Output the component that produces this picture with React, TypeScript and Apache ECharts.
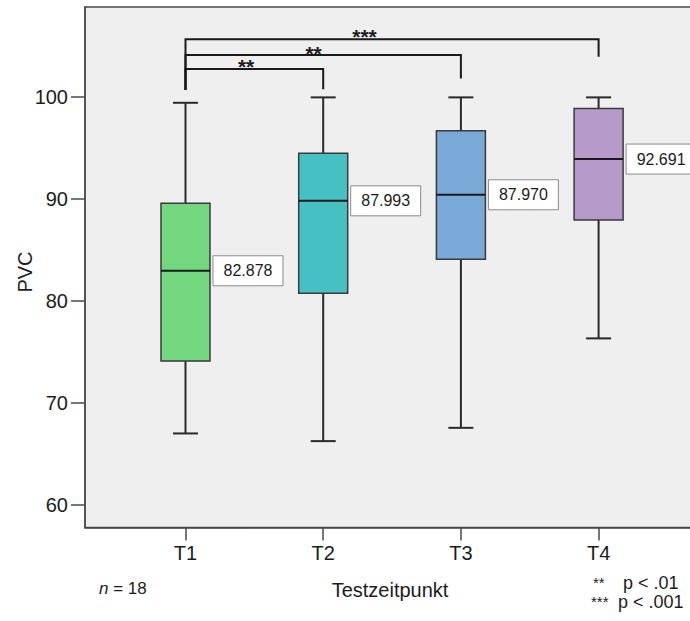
import React, { useEffect, useRef } from "react";
import * as echarts from "echarts";

// ---- data ----
const categories = ["T1", "T2", "T3", "T4"];
const categoryPos = [1, 2, 3, 4];
const whiskerLow = [67.01, 66.26, 67.56, 76.32];
const quartile1 = [74.1, 80.73, 84.08, 87.9];
const medians = [82.94, 89.79, 90.38, 93.88];
const quartile3 = [89.54, 94.44, 96.65, 98.84];
const whiskerHigh = [99.39, 99.92, 99.92, 99.92];
const meanLabels = ["82.878", "87.993", "87.970", "92.691"];
const boxColors = ["#72d77f", "#47c0c4", "#79a9d6", "#b69bca"];

const yTicks = [60, 70, 80, 90, 100];

// significance brackets
const bracketFrom = [1, 1, 1];
const bracketTo = [2, 3, 4];
const bracketLevel = [102.69, 104.06, 105.6];
const bracketLeftEnd = [100.64, 100.64, 100.64];
const bracketRightEnd = [100.71, 101.78, 103.9];
const bracketLabels = ["**", "**", "***"];
const bracketLabelX = [1.44, 1.93, 2.3];
const bracketLabelY = [103.25, 104.55, 106.19];

const FONT = "'Liberation Sans', Arial, Helvetica, sans-serif";
const INK = "#1c1c1c";

export default function App() {
  const ref = useRef<HTMLDivElement>(null);

  useEffect(() => {
    if (!ref.current) return;
    const chart = echarts.init(ref.current, undefined, { renderer: "svg" });

    const boxData = categoryPos.map((x, i) => [
      x,
      whiskerLow[i],
      quartile1[i],
      medians[i],
      quartile3[i],
      whiskerHigh[i],
    ]);

    const bracketData = bracketFrom.map((f, i) => [
      f,
      bracketTo[i],
      bracketLevel[i],
      bracketLeftEnd[i],
      bracketRightEnd[i],
      bracketLabelX[i],
      bracketLabelY[i],
    ]);

    const option: any = {
      animation: false,
      textStyle: { fontFamily: FONT },
      grid: {
        left: 85,
        width: 612,
        top: 7,
        height: 520.5,
        outerBoundsMode: "none",
        containLabel: false,
        show: true,
        backgroundColor: "#efefef",
        borderColor: "#4a4a4a",
        borderWidth: 1.5,
      },
      xAxis: {
        type: "value",
        min: 0.2702,
        max: 4.7146,
        splitLine: { show: false },
        axisLine: { show: true, lineStyle: { color: "#4a4a4a", width: 1.5 } },
        axisTick: {
          show: true,
          customValues: categoryPos,
          length: 13,
          lineStyle: { color: "#4a4a4a", width: 1.5 },
        },
        axisLabel: {
          customValues: categoryPos,
          formatter: (v: number) => categories[Math.round(v) - 1] ?? "",
          fontSize: 20,
          color: INK,
          margin: 15,
          fontFamily: FONT,
        },
        name: "Testzeitpunkt",
        nameLocation: "middle",
        nameGap: 52,
        nameTextStyle: { fontSize: 20, color: INK, fontFamily: FONT, padding: [0, 2, 0, 0] },
      },
      yAxis: {
        type: "value",
        min: 57.8,
        max: 108.77,
        splitLine: { show: false },
        axisLine: { show: true, lineStyle: { color: "#4a4a4a", width: 1.5 } },
        axisTick: {
          show: true,
          customValues: yTicks,
          length: 14,
          lineStyle: { color: "#4a4a4a", width: 1.5 },
        },
        axisLabel: {
          customValues: yTicks,
          fontSize: 20,
          color: INK,
          margin: 17,
          fontFamily: FONT,
        },
      },
      graphic: [
        {
          type: "text",
          x: 25,
          y: 272,
          rotation: Math.PI / 2,
          style: {
            text: "PVC",
            fontSize: 20,
            fontFamily: FONT,
            fill: INK,
            align: "center",
            verticalAlign: "middle",
          },
        },
        {
          type: "text",
          left: 99,
          top: 580,
          style: {
            text: "{i|n} = 18",
            rich: {
              i: { fontStyle: "italic", fontSize: 17, fontFamily: FONT, fill: INK },
            },
            fontSize: 17,
            fontFamily: FONT,
            fill: INK,
          },
        },
        {
          type: "text",
          left: 593,
          top: 575,
          style: { text: "**", fontSize: 15, fontFamily: FONT, fill: INK },
        },
        {
          type: "text",
          left: 623,
          top: 574,
          style: { text: "p < .01", fontSize: 18, fontFamily: FONT, fill: INK },
        },
        {
          type: "text",
          left: 591,
          top: 594,
          style: { text: "***", fontSize: 15, fontFamily: FONT, fill: INK },
        },
        {
          type: "text",
          left: 618,
          top: 593,
          style: { text: "p < .001", fontSize: 18, fontFamily: FONT, fill: INK },
        },
      ],
      series: [
        {
          type: "custom",
          name: "PVC",
          data: boxData,
          encode: { x: 0, y: [1, 2, 3, 4, 5] },
          renderItem: (params: any, api: any) => {
            const i = params.dataIndex;
            const x = api.value(0);
            const pLow = api.coord([x, api.value(1)]);
            const pQ1 = api.coord([x, api.value(2)]);
            const pMed = api.coord([x, api.value(3)]);
            const pQ3 = api.coord([x, api.value(4)]);
            const pHigh = api.coord([x, api.value(5)]);
            const cx = pMed[0];
            const hw = 24.5;
            const cap = 12.5;
            const wStyle = { stroke: "#2a2a2a", lineWidth: 2 };
            const lx = cx + hw + 3;
            return {
              type: "group",
              children: [
                { type: "line", shape: { x1: cx, y1: pQ3[1], x2: cx, y2: pHigh[1] }, style: wStyle },
                { type: "line", shape: { x1: cx, y1: pQ1[1], x2: cx, y2: pLow[1] }, style: wStyle },
                { type: "line", shape: { x1: cx - cap, y1: pHigh[1], x2: cx + cap, y2: pHigh[1] }, style: wStyle },
                { type: "line", shape: { x1: cx - cap, y1: pLow[1], x2: cx + cap, y2: pLow[1] }, style: wStyle },
                {
                  type: "rect",
                  shape: { x: cx - hw, y: pQ3[1], width: hw * 2, height: pQ1[1] - pQ3[1] },
                  style: { fill: boxColors[i], stroke: "#3a3a3a", lineWidth: 1.5 },
                },
                {
                  type: "line",
                  shape: { x1: cx - hw, y1: pMed[1], x2: cx + hw, y2: pMed[1] },
                  style: { stroke: "#1a1a1a", lineWidth: 2 },
                },
                {
                  type: "rect",
                  shape: { x: lx, y: pMed[1] - 15, width: 70, height: 30 },
                  style: { fill: "#ffffff", stroke: "#8a8a8a", lineWidth: 1 },
                },
                {
                  type: "text",
                  x: lx + 35,
                  y: pMed[1],
                  style: {
                    text: meanLabels[i],
                    fontSize: 16,
                    fontFamily: FONT,
                    fill: INK,
                    align: "center",
                    verticalAlign: "middle",
                  },
                },
              ],
            };
          },
        },
        {
          type: "custom",
          name: "Signifikanz",
          data: bracketData,
          encode: { x: [0, 1, 5], y: [2, 3, 4, 6] },
          renderItem: (params: any, api: any) => {
            const i = params.dataIndex;
            const pL0 = api.coord([api.value(0), api.value(3)]);
            const pL1 = api.coord([api.value(0), api.value(2)]);
            const pR1 = api.coord([api.value(1), api.value(2)]);
            const pR0 = api.coord([api.value(1), api.value(4)]);
            const pT = api.coord([api.value(5), api.value(6)]);
            return {
              type: "group",
              children: [
                {
                  type: "polyline",
                  shape: { points: [pL0, pL1, pR1, pR0] },
                  style: { stroke: "#1a1a1a", lineWidth: 2, fill: null },
                },
                {
                  type: "text",
                  x: pT[0],
                  y: pT[1] + 3,
                  style: {
                    text: bracketLabels[i],
                    fontSize: 21,
                    fontWeight: "bold",
                    fontFamily: FONT,
                    fill: INK,
                    align: "center",
                    verticalAlign: "middle",
                  },
                },
              ],
            };
          },
        },
      ],
    };

    chart.setOption(option);
    return () => chart.dispose();
  }, []);

  return (
    <div
      ref={ref}
      style={{ position: "fixed", left: 0, top: 0, width: 690, height: 621, background: "#ffffff" }}
    />
  );
}
